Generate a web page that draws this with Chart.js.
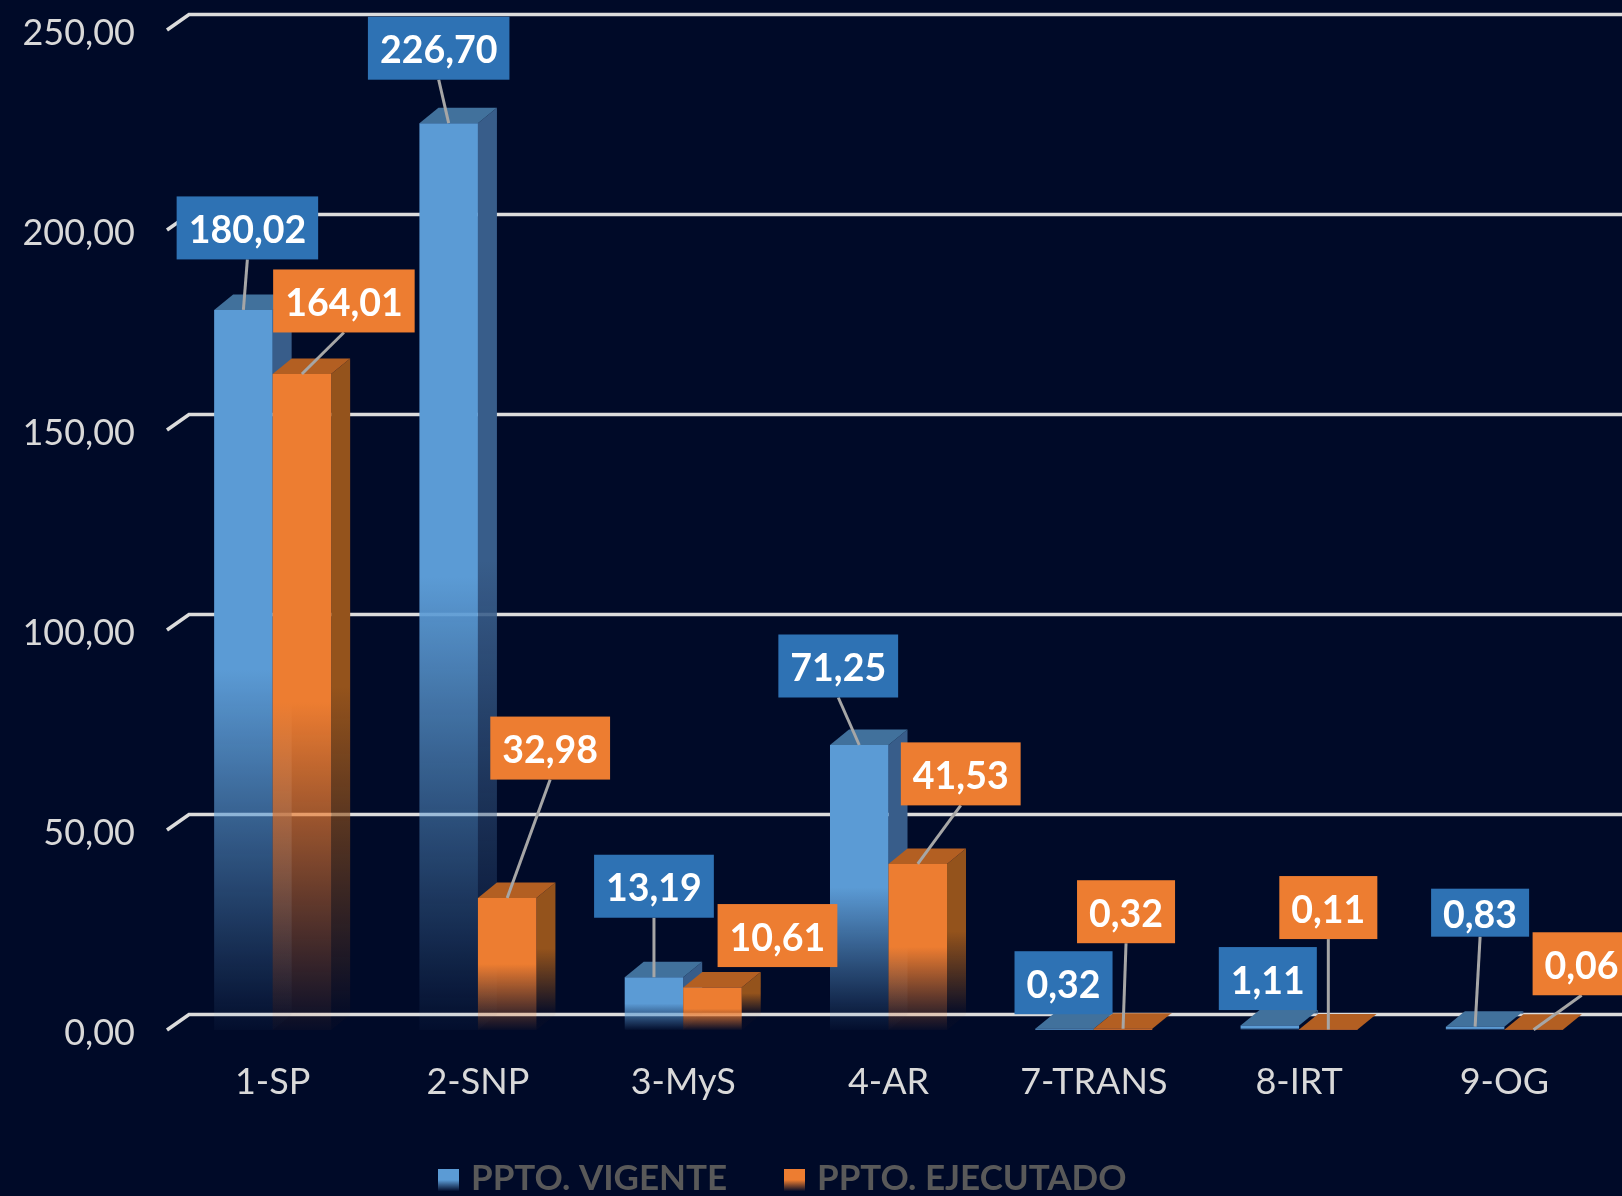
<!DOCTYPE html>
<html>
<head>
<meta charset="utf-8">
<script src="https://cdn.jsdelivr.net/npm/chart.js@4"></script>
<style>
    html, body { margin: 0; background: #000a28; overflow: hidden; }
    canvas { display: block; filter: blur(0.7px); }
</style>
</head>
<body>
<canvas id="chart" width="1622" height="1196"></canvas>
<script>
const categories = ['1-SP', '2-SNP', '3-MyS', '4-AR', '7-TRANS', '8-IRT', '9-OG'];
const pptoVigente = [180.02, 226.70, 13.19, 71.25, 0.32, 1.11, 0.83];
const pptoEjecutado = [164.01, 32.98, 10.61, 41.53, 0.32, 0.11, 0.06];

// where each value box sits, relative to the top of its bar (third item: box height if not the usual)
const shiftVigente = [[4, -82], [-10, -75], [0, -91], [-21, -79], [-1, -46], [-2, -47], [5, -114, 48]];
const shiftEjecutado = [[42, -73], [43, -150], [65, -52], [43, -90], [3, -117], [0, -122], [48, -66]];

const FONT = 'Lato, Carlito, sans-serif';
const DEPTH_X = 19;
const DEPTH_Y = 15.5;
const BOX_H = 63;

const faces = [
    { front: '91,155,213', top: '#41719c', side: '56,93,138', box: '#2e72b4', shift: shiftVigente },
    { front: '237,125,49', top: '#b35f22', side: '148,83,28', box: '#ed7d31', shift: shiftEjecutado },
];

const fmt = (v) => v.toFixed(2).replace('.', ',');

function fade(ctx, rgb, top, bottom) {
    const g = ctx.createLinearGradient(0, top, 0, bottom);
    g.addColorStop(0, `rgba(${rgb},1)`);
    g.addColorStop(0.5, `rgba(${rgb},1)`);
    g.addColorStop(1, `rgba(${rgb},0.03)`);
    return g;
}

const scriptedFront = (rgb) => (c) => {
    const y = c.chart.scales.y;
    if (!y || c.type !== 'data' || !c.parsed) return `rgb(${rgb})`;
    const top = y.getPixelForValue(c.parsed.y);
    const bottom = y.getPixelForValue(0);
    if (!Number.isFinite(top) || !Number.isFinite(bottom)) return `rgb(${rgb})`;
    return fade(c.chart.ctx, rgb, top, bottom);
};

const bars3d = {
    id: 'bars3d',
    beforeDatasetsDraw(chart) {
        const ctx = chart.ctx;
        const yScale = chart.scales.y;

        // back wall lines with the little slash down to the front plane
        ctx.save();
        ctx.strokeStyle = '#dcdcdc';
        ctx.lineWidth = 3.5;
        yScale.ticks.forEach((t) => {
            const y = yScale.getPixelForValue(t.value);
            ctx.beginPath();
            ctx.moveTo(167, y);
            ctx.lineTo(189, y - DEPTH_Y);
            ctx.lineTo(chart.width, y - DEPTH_Y);
            ctx.stroke();
        });
        ctx.restore();

        // first dataset first, the orange bars sit over the blue sides
        chart.getSortedVisibleDatasetMetas().forEach((meta) => {
            const f = faces[meta.index];
            meta.data.forEach((bar) => {
                const l = bar.x - bar.width / 2;
                const r = bar.x + bar.width / 2;
                ctx.fillStyle = fade(ctx, f.side, bar.y - DEPTH_Y, bar.base - DEPTH_Y);
                ctx.beginPath();
                ctx.moveTo(r, bar.y);
                ctx.lineTo(r + DEPTH_X, bar.y - DEPTH_Y);
                ctx.lineTo(r + DEPTH_X, bar.base - DEPTH_Y);
                ctx.lineTo(r, bar.base);
                ctx.closePath();
                ctx.fill();

                ctx.fillStyle = f.top;
                ctx.beginPath();
                ctx.moveTo(l, bar.y);
                ctx.lineTo(l + DEPTH_X, bar.y - DEPTH_Y);
                ctx.lineTo(r + DEPTH_X, bar.y - DEPTH_Y);
                ctx.lineTo(r, bar.y);
                ctx.closePath();
                ctx.fill();

                bar.draw(ctx);
            });
        });
        return false;
    },
    afterDraw(chart) {
        const ctx = chart.ctx;
        ctx.save();
        ctx.font = 'bold 37.5px ' + FONT;
        ctx.textAlign = 'center';
        ctx.textBaseline = 'middle';

        chart.getSortedVisibleDatasetMetas().forEach((meta) => {
            const f = faces[meta.index];
            const values = chart.data.datasets[meta.index].data;
            meta.data.forEach((bar, i) => {
                const text = fmt(values[i]);
                const w = ctx.measureText(text).width + 24;
                const h = f.shift[i][2] || BOX_H;
                const cx = bar.x + f.shift[i][0];
                const cy = bar.y + f.shift[i][1];
                const bottom = cy + h / 2;

                // boxes close to their bar carry no leader
                if (bar.y - bottom > 30) {
                    ctx.strokeStyle = '#a6a6a6';
                    ctx.lineWidth = 3;
                    ctx.beginPath();
                    ctx.moveTo(cx, bottom);
                    ctx.lineTo(bar.x, bar.y);
                    ctx.stroke();
                }
                ctx.fillStyle = f.box;
                ctx.fillRect(cx - w / 2, cy - h / 2, w, h);
                ctx.fillStyle = '#ffffff';
                ctx.fillText(text, cx, cy + 3);
            });
        });

        // legend
        const legendX = [438, 784];
        ctx.font = 'bold 35px ' + FONT;
        ctx.textAlign = 'left';
        chart.data.datasets.forEach((ds, i) => {
            const my = 1169;
            ctx.fillStyle = fade(ctx, faces[i].front, my, my + 22);
            ctx.fillRect(legendX[i], my, 21, 22);
            ctx.fillStyle = '#595959';
            ctx.fillText(ds.label, legendX[i] + 33, 1179);
        });
        ctx.restore();
    },
};

new Chart(document.getElementById('chart'), {
    type: 'bar',
    data: {
        labels: categories,
        datasets: [{
            label: 'PPTO. VIGENTE',
            data: pptoVigente,
            backgroundColor: scriptedFront(faces[0].front),
            categoryPercentage: 0.57,
            barPercentage: 1,
        }, {
            label: 'PPTO. EJECUTADO',
            data: pptoEjecutado,
            backgroundColor: scriptedFront(faces[1].front),
            categoryPercentage: 0.57,
            barPercentage: 1,
        }]
    },
    options: {
        responsive: false,
        animation: false,
        devicePixelRatio: 1,
        layout: { padding: { top: 30, right: 15 } },
        scales: {
            x: {
                grid: { display: false },
                border: { display: false },
                afterFit: (s) => { s.height = 166; },
                ticks: {
                    color: '#d9d9d9',
                    padding: 23,
                    maxRotation: 0,
                    font: { family: FONT, size: 36 },
                }
            },
            y: {
                min: 0,
                max: 250,
                grid: { display: false },
                border: { display: false },
                afterFit: (s) => { s.width = 170; s.paddingTop = 0; s.paddingBottom = 0; },
                ticks: {
                    stepSize: 50,
                    color: '#d9d9d9',
                    padding: 27,
                    labelOffset: 3,
                    font: { family: FONT, size: 36 },
                    callback: (v) => fmt(v),
                }
            }
        },
        plugins: {
            legend: { display: false },
            tooltip: { enabled: false },
        }
    },
    plugins: [bars3d],
});
</script>
</body>
</html>
